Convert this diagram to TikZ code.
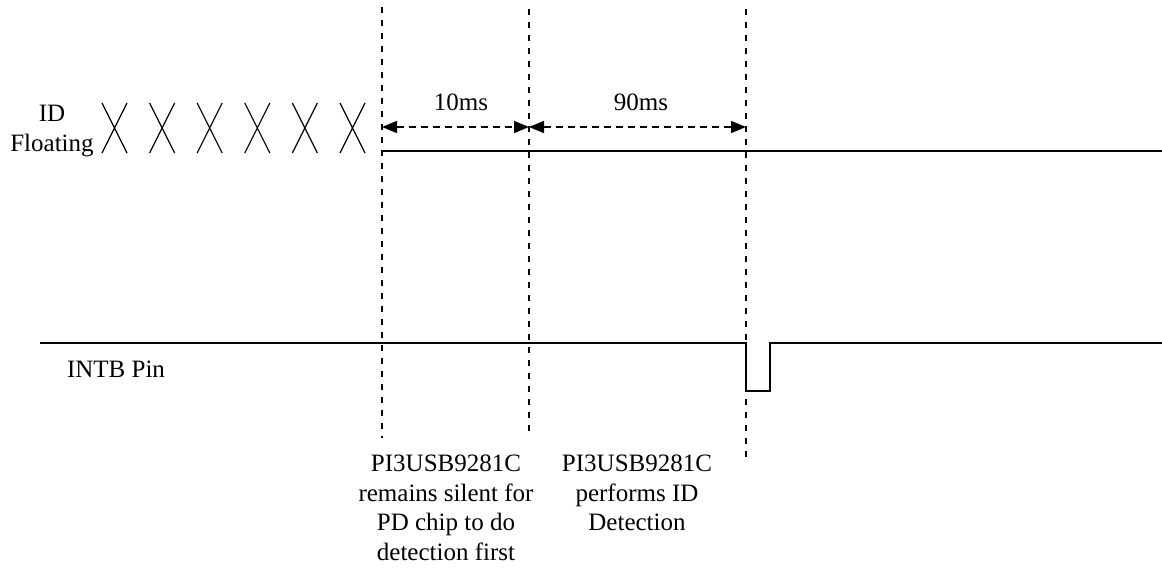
\documentclass[tikz,border=0pt]{standalone}
\usepackage{fontspec}
\setmainfont{Liberation Serif}
\usetikzlibrary{arrows.meta}
\begin{document}
\begin{tikzpicture}[x=1pt,y=-1pt,
    every node/.style={inner sep=0pt, font=\fontsize{25}{29.5}\selectfont},
    marker/.style={line width=1.6pt, dash pattern=on 6pt off 7pt},
    span/.style={line width=1.6pt, dash pattern=on 7pt off 5pt,
        {Triangle[length=15pt,width=12pt]}-{Triangle[length=15pt,width=12pt]}},
    signal/.style={line width=1.6pt},
    floatx/.style={line width=1.2pt}]
    \useasboundingbox (0,0) rectangle (1162,570);
    % time markers
    \coordinate (m1top) at (382,7);
    \coordinate (m1bot) at (382,438);
    \coordinate (m2top) at (529,9);
    \coordinate (m2bot) at (529,438);
    \coordinate (m3top) at (746,9);
    \coordinate (m3bot) at (746,464);
    \draw[marker] (m1top) -- (m1bot);
    \draw[marker] (m2top) -- (m2bot);
    \draw[marker] (m3top) -- (m3bot);
    % ID signal
    \node(idlabel) [align=center, anchor=north] at (52,105) {ID\\Floating};
    \foreach \i in {0,...,5}
        \draw[floatx] (102+47.6*\i,103) -- (127+47.6*\i,153)
                      (127+47.6*\i,103) -- (102+47.6*\i,153);
    \coordinate (idstart) at (382,151);
    \coordinate (idend) at (1162,151);
    \draw[signal] (idstart) -- (idend);
    % timing spans
    \coordinate (s1) at (382,127);
    \coordinate (s2) at (529,127);
    \coordinate (s3) at (746,127);
    \draw[span] (s1) -- (s2);
    \draw[span] (s2) -- (s3);
    \node(tenms) [anchor=base] at (461,110) {10ms};
    \node(ninetyms) [anchor=base] at (641,110) {90ms};
    % INTB signal
    \node(intblabel) [anchor=base] at (116,377) {INTB Pin};
    \coordinate (intbstart) at (40,343);
    \coordinate (pulsedown) at (746,343);
    \coordinate (pulselow) at (746,391);
    \coordinate (pulseup) at (770,391);
    \coordinate (pulsehigh) at (770,343);
    \coordinate (intbend) at (1162,343);
    \draw[signal] (intbstart) -- (pulsedown) -- (pulselow) -- (pulseup) -- (pulsehigh) -- (intbend);
    % notes
    \node(silentnote) [align=center, anchor=north] at (446,455)
        {PI3USB9281C\\remains silent for\\PD chip to do\\detection first};
    \node(detectnote) [align=center, anchor=north] at (637,455)
        {PI3USB9281C\\performs ID\\Detection};
\end{tikzpicture}
\end{document}
